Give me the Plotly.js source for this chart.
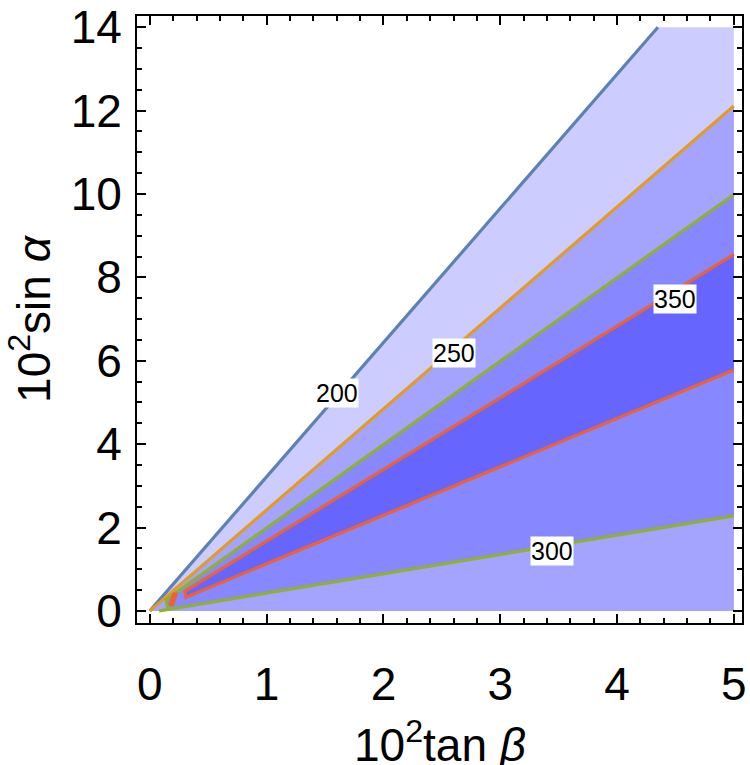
<!DOCTYPE html>
<html>
<head>
<meta charset="utf-8">
<script src="https://cdn.plot.ly/plotly-3.0.1.min.js"></script>
<style>html,body{margin:0;padding:0;background:#fff;}#chart{width:750px;height:765px;}</style>
</head>
<body>
<div id="chart"></div>
<script>
// Plot domain (filled region)
const domainX = [0, 5];
const domainY = [0, 14];

// Contour lines (10^2 tan beta, 10^2 sin alpha)
const x200 = [0, 4.35];
const y200 = [0, 14];
const x250 = [0, 5];
const y250 = [0, 12.11];
const x300 = [5, 0.14, 0.155, 0.08, 5];
const y300 = [9.99, 0.27, 0.04, 0.0, 2.28];
const x350 = [5, 0.30, 0.31, 5];
const y350 = [8.55, 0.47, 0.33, 5.78];
const x350island = [0.165, 0.20, 0.235, 0.20, 0.165];
const y350island = [0.14, 0.43, 0.42, 0.13, 0.14];

// Contour labels
const labelText = ["200", "250", "350", "300"];
const labelX = [1.60, 2.60, 4.50, 3.44];
const labelY = [5.23, 6.19, 7.48, 1.44];

const xTitle = '10<sup>2</sup>tan <i>β</i>';
const yTitle = '10<sup>2</sup>sin <i>α</i>';

const fillColors = ["#CCCCFF", "#A4A4FF", "#8787FF", "#6666FF"];
const lineColors = {200: "#5E81B5", 250: "#E19C24", 300: "#8FB032", 350: "#EB6235"};

const X1 = domainX[1], Y1 = domainY[1], X0 = domainX[0], Y0 = domainY[0];

const traces = [];
// z > 200 region
traces.push({x: [...x200, X1, X1, X0], y: [...y200, Y1, Y0, Y0], mode: 'lines', fill: 'toself',
  fillcolor: fillColors[0], line: {width: 0}, hoverinfo: 'skip'});
// z > 250 region
traces.push({x: [...x250, X1, X0], y: [...y250, Y0, Y0], mode: 'lines', fill: 'toself',
  fillcolor: fillColors[1], line: {width: 0}, hoverinfo: 'skip'});
// z > 300 region
traces.push({x: x300, y: y300, mode: 'lines', fill: 'toself',
  fillcolor: fillColors[2], line: {width: 0}, hoverinfo: 'skip'});
// z > 350 region
traces.push({x: x350, y: y350, mode: 'lines', fill: 'toself',
  fillcolor: fillColors[3], line: {width: 0}, hoverinfo: 'skip'});
// lines
const lw = 3.2;
traces.push({x: x200, y: y200, mode: 'lines', line: {color: lineColors[200], width: lw}, hoverinfo: 'skip'});
traces.push({x: x250, y: y250, mode: 'lines', line: {color: lineColors[250], width: lw}, hoverinfo: 'skip'});
traces.push({x: x300, y: y300, mode: 'lines', line: {color: lineColors[300], width: lw}, hoverinfo: 'skip'});
traces.push({x: x350, y: y350, mode: 'lines', line: {color: lineColors[350], width: lw}, hoverinfo: 'skip'});
traces.push({x: x350island, y: y350island, mode: 'lines', fill: 'toself', fillcolor: lineColors[350],
  line: {color: lineColors[350], width: 1.5}, hoverinfo: 'skip'});

const font = {family: 'Liberation Sans, Arial, sans-serif', size: 46, color: 'black'};

const annotations = labelText.map((t, i) => ({
  x: labelX[i], y: labelY[i], xref: 'x', yref: 'y', text: t, showarrow: false,
  bgcolor: 'white', borderpad: 0, font: {family: 'Liberation Sans, Arial, sans-serif', size: 25, color: 'black'}
}));
annotations.push({
  x: 0.5, y: -0.196, xref: 'paper', yref: 'paper', xanchor: 'center', yanchor: 'middle',
  text: xTitle, showarrow: false, font: font
});

const layout = {
  width: 750, height: 765,
  margin: {l: 137, r: 8, t: 16, b: 142},
  paper_bgcolor: 'white', plot_bgcolor: 'white',
  showlegend: false,
  font: font,
  annotations: annotations,
  xaxis: {
    range: [-0.11, 5.07], showgrid: false, zeroline: false,
    showline: true, linecolor: 'black', linewidth: 2, mirror: 'allticks',
    ticks: 'inside', ticklen: 9, tickwidth: 2, tickcolor: 'black',
    tick0: 0, dtick: 1, tickfont: font, ticklabelstandoff: 20,
    minor: {ticks: 'inside', ticklen: 5, tickwidth: 2, tickcolor: 'black', dtick: 0.2, showgrid: false}
  },
  yaxis: {
    range: [-0.29, 14.27], showgrid: false, zeroline: false,
    showline: true, linecolor: 'black', linewidth: 2, mirror: 'allticks',
    ticks: 'inside', ticklen: 9, tickwidth: 2, tickcolor: 'black',
    tick0: 0, dtick: 2, tickfont: font, ticklabelstandoff: 4,
    minor: {ticks: 'inside', ticklen: 5, tickwidth: 2, tickcolor: 'black', dtick: 0.5, showgrid: false},
    title: {text: yTitle, font: font, standoff: 6}
  }
};

Plotly.newPlot('chart', traces, layout, {staticPlot: true, displayModeBar: false});
</script>
</body>
</html>
